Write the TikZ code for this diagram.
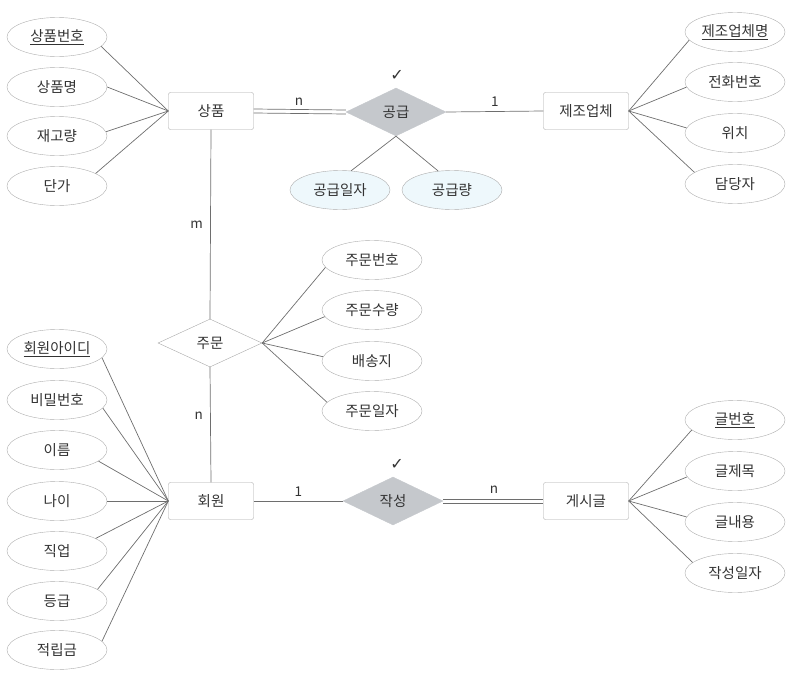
\documentclass[tikz,border=0pt]{standalone}
\usepackage{fontspec}
\setmainfont{Noto Sans CJK KR}
\newfontfamily\symfont{DejaVu Sans}
\usetikzlibrary{shapes.geometric}

\definecolor{txtgray}{HTML}{333333}
\definecolor{linegray}{HTML}{6E6E6E}
\definecolor{boxgray}{HTML}{A8A8A8}
\definecolor{attrgray}{HTML}{ADADAD}
\definecolor{relgray}{HTML}{C5C8CC}
\definecolor{paleblue}{HTML}{EEF8FC}

\tikzset{
	entity/.style={draw=boxgray, rounded corners=2pt, minimum width=85pt, minimum height=37pt, inner sep=0pt, text=txtgray},
	attr/.style={ellipse, draw=attrgray, minimum width=100pt, minimum height=39pt, inner sep=0pt, text=txtgray},
	relattr/.style={attr, fill=paleblue},
	rel/.style={diamond, draw=boxgray, minimum width=104pt, minimum height=48pt, inner sep=0pt, text=txtgray},
	relfill/.style={rel, draw=relgray, fill=relgray, minimum width=100pt},
	link/.style={draw=linegray, line width=0.7pt},
	card/.style={text=txtgray, font=\fontsize{13.5}{15}\selectfont},
	tick/.style={text=txtgray, font=\symfont\fontsize{16}{18}\selectfont}
}

\begin{document}
\begin{tikzpicture}[x=1pt, y=-1pt, font=\fontsize{14.5}{17}\selectfont]
	\useasboundingbox (0,0) rectangle (811,672);

	% entities and relations
	\node[entity] (sangpum) at (211,111) {상품};
	\node[entity] (jejo) at (586,111) {제조업체};
	\node[entity] (hoewon) at (211,501) {회원};
	\node[entity] (gesi) at (586,501) {게시글};
	\node[relfill] (gonggeup) at (396,112) {공급};
	\node[rel] (jumun) at (210,343) {주문};
	\node[relfill] (jakseong) at (393,501) {작성};
	\node[tick] (tick1) at (397,75) {✓};
	\node[tick] (tick2) at (397,464) {✓};

	% attributes of 상품
	\node[attr] (a1) at (57,37) {\underline{상품번호}};
	\node[attr] (a2) at (57,87) {상품명};
	\node[attr] (a3) at (57,136) {재고량};
	\node[attr] (a4) at (57,186) {단가};
	\foreach \n/\ang in {a1/-12,a2/0,a3/5,a4/18}
		\draw[link] (\n.\ang) -- (sangpum.west);

	% attributes of 제조업체
	\node[attr] (b1) at (735,32) {\underline{제조업체명}};
	\node[attr] (b2) at (735,82) {전화번호};
	\node[attr] (b3) at (735,133) {위치};
	\node[attr] (b4) at (735,184) {담당자};
	\foreach \n/\ang in {b1/190,b2/186,b3/174,b4/164}
		\draw[link] (\n.\ang) -- (jejo.east);

	% attributes of 공급
	\node[relattr] (c1) at (340,190) {공급일자};
	\node[relattr] (c2) at (452,190) {공급량};
	\draw[link] (gonggeup.south) -- (c1.60);
	\draw[link] (gonggeup.south) -- (c2.126);

	% attributes of 주문
	\node[attr] (d1) at (372,260) {주문번호};
	\node[attr] (d2) at (372,310) {주문수량};
	\node[attr] (d3) at (372,361) {배송지};
	\node[attr] (d4) at (372,411) {주문일자};
	\foreach \n/\ang in {d1/189,d2/188,d3/175,d4/169}
		\draw[link] (jumun.east) -- (\n.\ang);

	% attributes of 회원
	\node[attr] (e1) at (57,349) {\underline{회원아이디}};
	\node[attr] (e2) at (57,400) {비밀번호};
	\node[attr] (e3) at (57,450) {이름};
	\node[attr] (e4) at (57,501) {나이};
	\node[attr] (e5) at (57,551) {직업};
	\node[attr] (e6) at (57,601) {등급};
	\node[attr] (e7) at (57,650) {적립금};
	\foreach \n/\ang in {e1/-11,e2/-10,e3/-15,e4/0,e5/18,e6/16,e7/11}
		\draw[link] (\n.\ang) -- (hoewon.west);

	% attributes of 게시글
	\node[attr] (f1) at (735,420) {\underline{글번호}};
	\node[attr] (f2) at (735,471) {글제목};
	\node[attr] (f3) at (735,522) {글내용};
	\node[attr] (f4) at (735,573) {작성일자};
	\foreach \n/\ang in {f1/193,f2/187,f3/174,f4/166}
		\draw[link] (gesi.east) -- (\n.\ang);

	% relationship lines (double = total participation)
	\foreach \s in {-2,2}
		\draw[link] ([yshift=\s pt]sangpum.east) -- ([yshift=\s pt]gonggeup.west);
	\node[card] (card1) at (299,102) {n};
	\draw[link] (gonggeup.east) -- node[card, above=1pt] {1} (jejo.west);
	\draw[link] (sangpum.south) -- node[card, left=4pt] {m} (jumun.north);
	\draw[link] (jumun.south) -- node[card, left=4pt, pos=0.42] {n} (hoewon.north);
	\draw[link] (hoewon.east) -- node[card, above=1pt] {1} (jakseong.west);
	\foreach \s in {-2,2}
		\draw[link] ([yshift=\s pt]jakseong.east) -- ([yshift=\s pt]gesi.west);
	\node[card] (card2) at (494,490) {n};
\end{tikzpicture}
\end{document}
